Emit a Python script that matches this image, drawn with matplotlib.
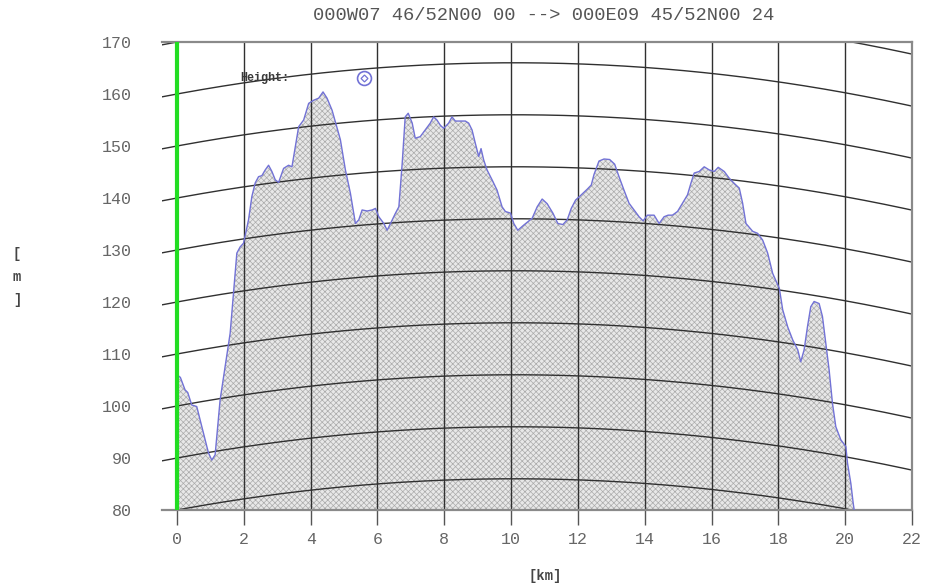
import matplotlib.pyplot as plt
import numpy as np

# Путь: расстояние (км) и высота рельефа (м)
dist_km = [0.00, 0.10, 0.24, 0.32, 0.44, 0.59, 0.79, 0.94, 1.04, 1.14,
           1.29, 1.44, 1.59, 1.69, 1.79, 1.89, 1.99, 2.14, 2.24, 2.34,
           2.44, 2.54, 2.64, 2.74, 2.84, 2.94, 3.04, 3.19, 3.34, 3.44,
           3.54, 3.64, 3.79, 3.94, 4.09, 4.24, 4.37, 4.49, 4.64, 4.74,
           4.89, 5.04, 5.19, 5.34, 5.44, 5.54, 5.69, 5.84, 5.94, 6.04,
           6.19, 6.29, 6.39, 6.54, 6.64, 6.74, 6.83, 6.92, 7.04, 7.13,
           7.28, 7.43, 7.58, 7.68, 7.78, 7.88, 7.98, 8.13, 8.23, 8.33,
           8.48, 8.63, 8.73, 8.83, 8.93, 9.03, 9.10, 9.18, 9.28, 9.43,
           9.58, 9.73, 9.83, 9.98, 10.08, 10.20, 10.38, 10.63, 10.78, 10.93,
           11.08, 11.25, 11.40, 11.55, 11.68, 11.80, 11.93, 12.10, 12.28, 12.40,
           12.48, 12.63, 12.78, 12.95, 13.10, 13.23, 13.38, 13.53, 13.68, 13.83,
           13.95, 14.08, 14.28, 14.43, 14.58, 14.70, 14.83, 14.98, 15.13, 15.28,
           15.38, 15.48, 15.63, 15.78, 15.93, 16.08, 16.20, 16.38, 16.53, 16.68,
           16.83, 16.93, 17.03, 17.23, 17.38, 17.53, 17.68, 17.83, 18.03, 18.13,
           18.28, 18.43, 18.58, 18.67, 18.77, 18.87, 18.97, 19.07, 19.22, 19.32,
           19.42, 19.52, 19.62, 19.72, 19.87, 20.02, 20.07, 20.17, 20.24, 20.27]
height_m = [106.0, 105.5, 103.1, 102.6, 100.2, 99.9, 94.8, 91.0, 89.6, 90.6,
            101.2, 107.6, 114.0, 121.7, 129.4, 130.6, 131.3, 135.8, 140.3, 142.9,
            144.1, 144.3, 145.4, 146.3, 145.1, 143.5, 143.0, 145.7, 146.3, 146.0,
            149.9, 153.7, 155.0, 158.2, 158.8, 159.2, 160.4, 159.2, 156.9, 154.6,
            151.2, 145.4, 140.9, 135.1, 135.8, 137.7, 137.5, 137.7, 138.0, 136.4,
            135.1, 133.8, 135.1, 137.1, 138.3, 146.7, 155.6, 156.3, 154.4, 151.5,
            151.8, 153.1, 154.4, 155.6, 155.0, 154.0, 153.4, 154.4, 155.6, 154.8,
            154.8, 154.8, 154.4, 153.1, 150.5, 148.0, 149.5, 147.3, 145.4, 143.5,
            141.5, 138.3, 137.4, 137.1, 135.1, 133.8, 134.8, 136.1, 138.3, 139.8,
            138.9, 137.1, 135.1, 134.9, 135.8, 138.0, 139.6, 140.6, 141.7, 142.5,
            144.5, 147.1, 147.5, 147.4, 146.5, 144.1, 141.5, 139.0, 137.7, 136.4,
            135.6, 136.7, 136.7, 135.1, 136.4, 136.7, 136.7, 137.4, 139.0, 140.6,
            142.8, 144.8, 145.1, 146.0, 145.4, 145.1, 145.9, 145.1, 143.8, 142.8,
            141.9, 139.0, 135.1, 133.6, 133.2, 131.9, 129.4, 125.5, 122.6, 118.5,
            115.2, 112.7, 110.8, 108.5, 110.8, 115.2, 119.1, 120.1, 119.7, 117.2,
            112.1, 106.9, 100.5, 96.0, 93.5, 92.2, 89.0, 85.1, 81.3, 80.0]

title_text = '000W07 46/52N00 00 --> 000E09 45/52N00 24'
x_ticks = list(range(0, 23, 2))
y_ticks = list(range(80, 171, 10))
arc_levels = list(range(80, 171, 10))   # уровни линий кривизны Земли
path_len_km = 20.2
earth_r_km = 6371.0
k_factor = 4.0 / 3.0

mono = 'Liberation Mono'
plt.rcParams['hatch.color'] = '#ababab'
plt.rcParams['hatch.linewidth'] = 0.5

fig = plt.figure(figsize=(9.27, 5.88), dpi=100)
ax = fig.add_axes([162 / 927, 1 - 510 / 588, 750 / 927, 468 / 588])
ax.set_xlim(-0.45, 22)
ax.set_ylim(80, 170)

# рельеф с заливкой
ax.fill_between(dist_km, height_m, 80, facecolor='#e8e8e8', hatch='xxxxxx',
                edgecolor='none', linewidth=0, zorder=1)

# вертикальная сетка
for xv in x_ticks[1:-1]:
    ax.axvline(xv, color='#303030', linewidth=1.0, zorder=2)

# дуги кривизны Земли (k = 4/3)
xs = np.linspace(-0.45, 22, 300)
bulge = xs * (path_len_km - xs) / (2 * k_factor * earth_r_km) * 1000.0
for lvl in arc_levels:
    ax.plot(xs, lvl + bulge, color='#303030', linewidth=1.0, zorder=2)

ax.plot(dist_km, height_m, color='#7272d6', linewidth=1.0, zorder=3)
ax.plot([0, 0], [80, 170], color='#22dd22', linewidth=3, zorder=4,
        solid_capstyle='butt')

# метка высоты
ax.text(1.89, 163.1, 'Height:', fontsize=8.5, fontweight='bold', family=mono,
        color='#3a3a3a', ha='left', va='center', zorder=5)
ax.plot(5.6, 163.1, 'o', markersize=10, markerfacecolor='none',
        markeredgecolor='#7272d6', markeredgewidth=1.2, zorder=5)
ax.plot(5.6, 163.1, 'D', markersize=3.5, markerfacecolor='none',
        markeredgecolor='#7272d6', markeredgewidth=0.9, zorder=5)

for side in ['top', 'right', 'bottom']:
    ax.spines[side].set_color('#8a8a8a')
    ax.spines[side].set_linewidth(1.6)
ax.spines['left'].set_visible(False)

ax.set_xticks(x_ticks)
ax.set_xticklabels([str(v) for v in x_ticks])
ax.set_yticks(y_ticks)
ax.set_yticklabels([str(v) for v in y_ticks])
ax.tick_params(axis='x', length=11, width=1.0, color='#555555', pad=5,
               labelsize=12, labelcolor='#666666')
ax.tick_params(axis='y', length=0, pad=22, labelsize=12, labelcolor='#666666')
for lab in ax.get_xticklabels() + ax.get_yticklabels():
    lab.set_family(mono)

fig.text(544 / 927, 1 - 15 / 588, title_text, ha='center', va='center',
         fontsize=13.5, family=mono, color='#555555')
fig.text(545 / 927, 1 - 576 / 588, '[km]', ha='center', va='center',
         fontsize=10, fontweight='bold', family=mono, color='#444444')
for ch, ypx in zip(['[', 'm', ']'], [254, 277, 300]):
    fig.text(17 / 927, 1 - ypx / 588, ch, ha='center', va='center',
             fontsize=10, fontweight='bold', family=mono, color='#444444')

fig.savefig('out.png', dpi=100)
